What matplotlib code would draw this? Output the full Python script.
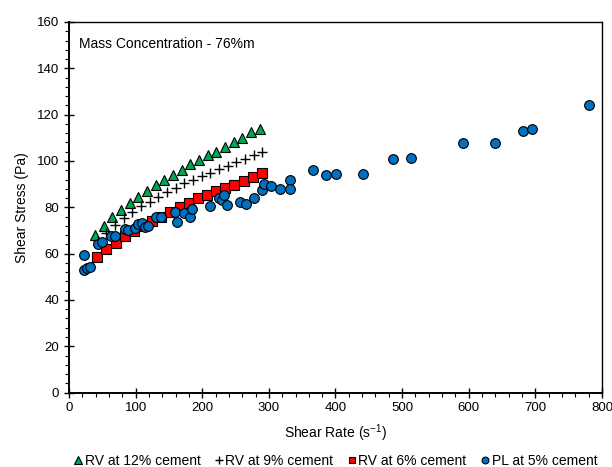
import matplotlib
matplotlib.use('Agg')
import matplotlib.pyplot as plt
from matplotlib.ticker import MultipleLocator

plt.rcParams['font.family'] = ['Liberation Sans', 'DejaVu Sans']
plt.rcParams['mathtext.fontset'] = 'custom'
plt.rcParams['mathtext.rm'] = 'Liberation Sans'
plt.rcParams['font.size'] = 10

# RV at 12% cement
rv12_x = [39, 52, 65, 78, 91, 104, 117, 130, 143, 156, 169, 182, 195, 208, 221, 234, 247, 260, 273, 286]
rv12_y = [68, 72, 76, 79, 82, 84.5, 87, 89.5, 92, 94, 96, 98.5, 100.5, 102.5, 104, 106, 108, 110, 112.5, 114]

# RV at 9% cement
rv9_x = [43, 56, 69, 82, 95, 108, 121, 134, 147, 160, 173, 186, 199, 212, 225, 238, 251, 264, 277, 290]
rv9_y = [65.5, 69, 72.5, 75.5, 78, 80.5, 82.5, 84.5, 86.5, 88.5, 90.5, 92, 93.5, 95, 96.5, 98, 99.5, 101, 102.5, 104]

# RV at 6% cement
rv6_x = [42, 56, 70, 84, 97, 111, 125, 138, 152, 166, 180, 194, 207, 221, 234, 248, 262, 276, 290]
rv6_y = [58.7, 62, 64.7, 67.5, 69.7, 71.8, 74.2, 75.6, 77.8, 80, 82, 84, 85.2, 87, 88.3, 89.8, 91.5, 93, 94.8]

# PL at 5% cement
pl5_x = [23, 23, 27, 31, 44, 49, 63, 69, 84, 89, 99, 104, 110, 114, 119, 130, 138, 159, 162, 173,
         182, 185, 212, 225, 230, 233, 237, 257, 265, 277, 289, 293, 303, 316, 331, 331, 366, 386,
         401, 442, 486, 514, 591, 640, 681, 695, 780]
pl5_y = [59.2, 52.9, 53.7, 54.4, 64.3, 65.2, 67.6, 67.6, 70.5, 70.4, 70.9, 73, 73.3, 71.3, 72, 75.7,
         75.7, 77.8, 73.5, 77.4, 75.6, 79.3, 80.4, 84.2, 83.3, 85.4, 80.8, 82.5, 81.5, 84.2, 87.6, 90,
         89, 88, 91.8, 87.8, 95.9, 94, 94.4, 94.5, 101, 101.4, 107.9, 107.7, 112.9, 113.6, 124.2]

fig = plt.figure(figsize=(6.12, 4.67), dpi=100)
ax = fig.add_axes([0.1127, 0.1593, 0.871, 0.7936])

ax.plot(rv12_x, rv12_y, linestyle='none', marker='^', markersize=7.5, color='#00A651',
        markeredgecolor='black', markeredgewidth=0.8, label='RV at 12% cement')
ax.plot(rv9_x, rv9_y, linestyle='none', marker='+', markersize=7.5, color='black',
        markeredgewidth=1.0, label='RV at 9% cement')
ax.plot(rv6_x, rv6_y, linestyle='none', marker='s', markersize=6.5, color='#FF0000',
        markeredgecolor='black', markeredgewidth=0.8, label='RV at 6% cement')
ax.plot(pl5_x, pl5_y, linestyle='none', marker='o', markersize=7, color='#0070C0',
        markeredgecolor='black', markeredgewidth=0.8, label='PL at 5% cement')

ax.set_xlim(0, 800)
ax.set_ylim(0, 160)
ax.xaxis.set_major_locator(MultipleLocator(100))
ax.xaxis.set_minor_locator(MultipleLocator(20))
ax.yaxis.set_major_locator(MultipleLocator(20))
ax.yaxis.set_minor_locator(MultipleLocator(4))
ax.tick_params(which='major', direction='inout', length=7, width=1, labelsize=9.5)
ax.tick_params(which='minor', direction='out', length=3, width=0.8)
for s in ax.spines.values():
    s.set_linewidth(1)
ax.spines['left'].set_linewidth(1.4)
ax.spines['bottom'].set_linewidth(1.4)

ax.set_xlabel('Shear Rate (s$^{-1}$)', labelpad=6)
ax.set_ylabel('Shear Stress (Pa)', labelpad=6)
ax.text(0.018, 0.96, 'Mass Concentration - 76%m', transform=ax.transAxes, va='top', ha='left')

fig.legend(loc='center', bbox_to_anchor=(0.548, 0.013), ncol=4, frameon=False,
           handlelength=0.6, handletextpad=0.2, columnspacing=1.0, markerscale=0.7, fontsize=10)

fig.savefig('out.png', dpi=100)
